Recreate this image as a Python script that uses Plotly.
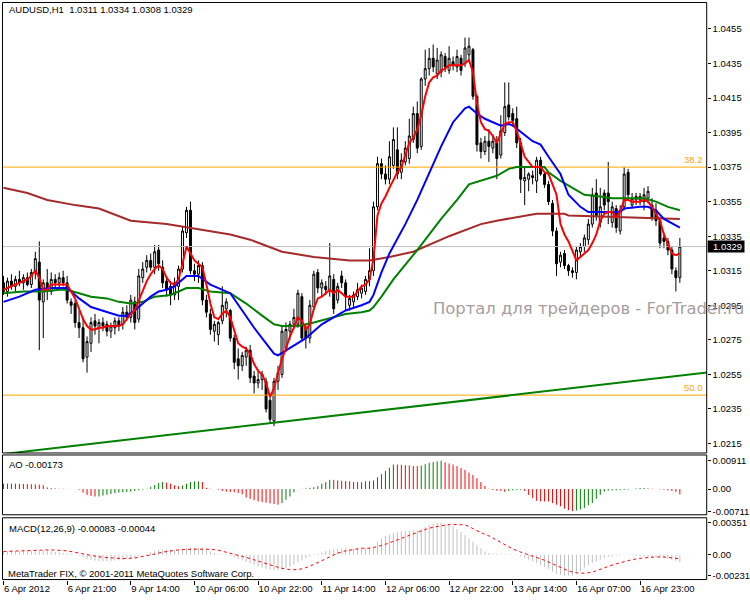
import plotly.graph_objects as go

# ---------------- AUDUSD H1 price bars ----------------
OPEN = [
    1.0308, 1.0303, 1.0309, 1.0306, 1.0310, 1.0308, 1.0311, 1.0307, 1.0314, 1.0320,
    1.0297, 1.0308, 1.0303, 1.0310, 1.0308, 1.0311, 1.0308, 1.0297, 1.0296, 1.0285,
    1.0282, 1.0265, 1.0273, 1.0286, 1.0282, 1.0285, 1.0284, 1.0280, 1.0282, 1.0286,
    1.0284, 1.0291, 1.0288, 1.0297, 1.0287, 1.0311, 1.0317, 1.0321, 1.0317, 1.0327,
    1.0317, 1.0309, 1.0306, 1.0301, 1.0306, 1.0316, 1.0337, 1.0350, 1.0315, 1.0313,
    1.0318, 1.0298, 1.0290, 1.0280, 1.0278, 1.0286, 1.0293, 1.0292, 1.0276, 1.0264,
    1.0260, 1.0265, 1.0269, 1.0254, 1.0250, 1.0252, 1.0251, 1.0240, 1.0228, 1.0251,
    1.0255, 1.0270, 1.0280, 1.0284, 1.0284, 1.0300, 1.0282, 1.0276, 1.0294, 1.0314,
    1.0305, 1.0306, 1.0304, 1.0310, 1.0298, 1.0312, 1.0308, 1.0295, 1.0297, 1.0300,
    1.0302, 1.0303, 1.0310, 1.0315, 1.0352, 1.0377, 1.0371, 1.0368, 1.0376, 1.0385,
    1.0372, 1.0378, 1.0380, 1.0391, 1.0406, 1.0387, 1.0426, 1.0432, 1.0438, 1.0429,
    1.0430, 1.0439, 1.0431, 1.0436, 1.0433, 1.0438, 1.0435, 1.0440, 1.0443, 1.0416,
    1.0389, 1.0384, 1.0390, 1.0386, 1.0389, 1.0382, 1.0395, 1.0411, 1.0406, 1.0403,
    1.0389, 1.0367, 1.0368, 1.0370, 1.0367, 1.0379, 1.0371, 1.0365, 1.0354, 1.0338,
    1.0320, 1.0325, 1.0318, 1.0315, 1.0314, 1.0326, 1.0329, 1.0333, 1.0342, 1.0360,
    1.0343, 1.0360, 1.0360, 1.0343, 1.0351, 1.0338, 1.0352, 1.0372, 1.0353, 1.0356,
    1.0356, 1.0355, 1.0357, 1.0353, 1.0350, 1.0344, 1.0334, 1.0332, 1.0327, 1.0315,
    1.0311,
]
HIGH = [
    1.0312, 1.0311, 1.0313, 1.0312, 1.0315, 1.0313, 1.0314, 1.0316, 1.0326, 1.0332,
    1.0310, 1.0316, 1.0314, 1.0313, 1.0314, 1.0315, 1.0312, 1.0299, 1.0298, 1.0292,
    1.0288, 1.0277, 1.0288, 1.0290, 1.0287, 1.0288, 1.0286, 1.0285, 1.0288, 1.0288,
    1.0294, 1.0295, 1.0301, 1.0300, 1.0316, 1.0320, 1.0324, 1.0325, 1.0330, 1.0330,
    1.0321, 1.0312, 1.0309, 1.0311, 1.0318, 1.0341, 1.0352, 1.0355, 1.0319, 1.0321,
    1.0320, 1.0301, 1.0293, 1.0286, 1.0286, 1.0306, 1.0299, 1.0293, 1.0278, 1.0270,
    1.0268, 1.0271, 1.0272, 1.0257, 1.0258, 1.0257, 1.0253, 1.0242, 1.0253, 1.0260,
    1.0283, 1.0285, 1.0286, 1.0293, 1.0304, 1.0302, 1.0284, 1.0298, 1.0315, 1.0316,
    1.0310, 1.0309, 1.0331, 1.0313, 1.0308, 1.0315, 1.0310, 1.0301, 1.0303, 1.0308,
    1.0307, 1.0312, 1.0328, 1.0355, 1.0381, 1.0380, 1.0376, 1.0390, 1.0398, 1.0398,
    1.0383, 1.0390, 1.0403, 1.0410, 1.0413, 1.0427, 1.0443, 1.0444, 1.0446, 1.0444,
    1.0442, 1.0441, 1.0445, 1.0439, 1.0443, 1.0440, 1.0450, 1.0450, 1.0444, 1.0417,
    1.0392, 1.0393, 1.0397, 1.0394, 1.0393, 1.0405, 1.0424, 1.0424, 1.0409, 1.0410,
    1.0392, 1.0375, 1.0372, 1.0373, 1.0381, 1.0381, 1.0372, 1.0367, 1.0356, 1.0340,
    1.0326, 1.0327, 1.0319, 1.0317, 1.0329, 1.0331, 1.0336, 1.0345, 1.0363, 1.0368,
    1.0363, 1.0362, 1.0378, 1.0355, 1.0353, 1.0353, 1.0375, 1.0374, 1.0360, 1.0360,
    1.0360, 1.0363, 1.0364, 1.0357, 1.0354, 1.0346, 1.0337, 1.0334, 1.0329, 1.0317,
    1.0334,
]
LOW = [
    1.0301, 1.0300, 1.0304, 1.0303, 1.0306, 1.0304, 1.0306, 1.0305, 1.0310, 1.0269,
    1.0276, 1.0298, 1.0301, 1.0305, 1.0304, 1.0306, 1.0296, 1.0290, 1.0282, 1.0276,
    1.0262, 1.0256, 1.0268, 1.0278, 1.0273, 1.0280, 1.0277, 1.0276, 1.0278, 1.0280,
    1.0281, 1.0286, 1.0285, 1.0281, 1.0285, 1.0308, 1.0314, 1.0315, 1.0313, 1.0315,
    1.0305, 1.0300, 1.0295, 1.0298, 1.0298, 1.0314, 1.0334, 1.0313, 1.0309, 1.0308,
    1.0295, 1.0288, 1.0278, 1.0274, 1.0272, 1.0284, 1.0288, 1.0274, 1.0258, 1.0252,
    1.0257, 1.0260, 1.0250, 1.0244, 1.0247, 1.0246, 1.0233, 1.0227, 1.0225, 1.0246,
    1.0253, 1.0268, 1.0275, 1.0282, 1.0282, 1.0274, 1.0270, 1.0273, 1.0292, 1.0302,
    1.0300, 1.0301, 1.0300, 1.0290, 1.0296, 1.0305, 1.0292, 1.0292, 1.0294, 1.0298,
    1.0299, 1.0301, 1.0306, 1.0312, 1.0350, 1.0368, 1.0365, 1.0365, 1.0374, 1.0368,
    1.0368, 1.0376, 1.0377, 1.0389, 1.0383, 1.0385, 1.0422, 1.0428, 1.0430, 1.0426,
    1.0427, 1.0430, 1.0429, 1.0431, 1.0430, 1.0428, 1.0433, 1.0436, 1.0414, 1.0384,
    1.0380, 1.0382, 1.0378, 1.0383, 1.0368, 1.0380, 1.0393, 1.0402, 1.0399, 1.0386,
    1.0360, 1.0353, 1.0361, 1.0365, 1.0360, 1.0370, 1.0363, 1.0353, 1.0335, 1.0312,
    1.0317, 1.0316, 1.0312, 1.0311, 1.0310, 1.0323, 1.0326, 1.0330, 1.0340, 1.0344,
    1.0340, 1.0350, 1.0342, 1.0340, 1.0337, 1.0336, 1.0350, 1.0356, 1.0351, 1.0353,
    1.0353, 1.0350, 1.0354, 1.0344, 1.0341, 1.0328, 1.0328, 1.0324, 1.0313, 1.0303,
    1.0308,
]
CLOSE = [
    1.0303, 1.0309, 1.0306, 1.0310, 1.0308, 1.0311, 1.0307, 1.0314, 1.0322, 1.0298,
    1.0308, 1.0303, 1.0310, 1.0308, 1.0311, 1.0308, 1.0298, 1.0295, 1.0285, 1.0282,
    1.0264, 1.0274, 1.0285, 1.0283, 1.0285, 1.0283, 1.0280, 1.0283, 1.0286, 1.0283,
    1.0291, 1.0288, 1.0298, 1.0285, 1.0312, 1.0316, 1.0321, 1.0317, 1.0326, 1.0319,
    1.0308, 1.0304, 1.0301, 1.0308, 1.0316, 1.0338, 1.0350, 1.0315, 1.0313, 1.0318,
    1.0298, 1.0291, 1.0281, 1.0284, 1.0285, 1.0295, 1.0297, 1.0276, 1.0262, 1.0260,
    1.0266, 1.0269, 1.0253, 1.0250, 1.0252, 1.0255, 1.0235, 1.0229, 1.0251, 1.0256,
    1.0280, 1.0281, 1.0284, 1.0288, 1.0302, 1.0276, 1.0276, 1.0295, 1.0313, 1.0305,
    1.0308, 1.0304, 1.0312, 1.0293, 1.0306, 1.0308, 1.0300, 1.0299, 1.0301, 1.0304,
    1.0305, 1.0310, 1.0315, 1.0352, 1.0377, 1.0371, 1.0368, 1.0381, 1.0391, 1.0371,
    1.0379, 1.0386, 1.0393, 1.0406, 1.0386, 1.0426, 1.0432, 1.0438, 1.0433, 1.0437,
    1.0440, 1.0433, 1.0438, 1.0434, 1.0439, 1.0431, 1.0444, 1.0445, 1.0416, 1.0388,
    1.0384, 1.0390, 1.0387, 1.0390, 1.0380, 1.0396, 1.0410, 1.0404, 1.0402, 1.0389,
    1.0368, 1.0369, 1.0371, 1.0369, 1.0379, 1.0371, 1.0365, 1.0355, 1.0338, 1.0319,
    1.0324, 1.0318, 1.0315, 1.0314, 1.0327, 1.0329, 1.0334, 1.0342, 1.0359, 1.0347,
    1.0352, 1.0353, 1.0355, 1.0352, 1.0340, 1.0350, 1.0371, 1.0359, 1.0357, 1.0358,
    1.0358, 1.0359, 1.0361, 1.0346, 1.0344, 1.0331, 1.0332, 1.0327, 1.0316, 1.0311,
    1.0329,
]

TIME_TICKS = [0, 16, 32, 48, 64, 80, 96, 112, 128, 144, 160]
TIME_LABELS = ["6 Apr 2012", "6 Apr 21:00", "9 Apr 14:00", "10 Apr 06:00",
               "10 Apr 22:00", "11 Apr 14:00", "12 Apr 06:00", "12 Apr 22:00",
               "13 Apr 14:00", "16 Apr 07:00", "16 Apr 23:00"]

# ---------------- moving averages ----------------
MA_FAST = [
    1.0304, 1.0305, 1.0306, 1.0307, 1.0308, 1.0309, 1.0310, 1.0312, 1.0315, 1.0311,
    1.0304, 1.0304, 1.0307, 1.0307, 1.0307, 1.0307, 1.0307, 1.0303, 1.0299, 1.0293,
    1.0287, 1.0283, 1.0281, 1.0281, 1.0282, 1.0282, 1.0283, 1.0283, 1.0283, 1.0283,
    1.0284, 1.0287, 1.0290, 1.0292, 1.0298, 1.0304, 1.0309, 1.0313, 1.0316, 1.0318,
    1.0316, 1.0311, 1.0308, 1.0307, 1.0310, 1.0319, 1.0329, 1.0325, 1.0321, 1.0319,
    1.0317, 1.0307, 1.0296, 1.0288, 1.0287, 1.0290, 1.0292, 1.0288, 1.0281, 1.0273,
    1.0271, 1.0270, 1.0267, 1.0261, 1.0257, 1.0255, 1.0250, 1.0242, 1.0247, 1.0255,
    1.0264, 1.0270, 1.0277, 1.0282, 1.0288, 1.0286, 1.0281, 1.0284, 1.0293, 1.0299,
    1.0300, 1.0302, 1.0304, 1.0302, 1.0304, 1.0302, 1.0300, 1.0300, 1.0300, 1.0303,
    1.0306, 1.0307, 1.0310, 1.0322, 1.0347, 1.0354, 1.0358, 1.0363, 1.0368, 1.0372,
    1.0375, 1.0382, 1.0389, 1.0392, 1.0397, 1.0405, 1.0416, 1.0424, 1.0427, 1.0428,
    1.0431, 1.0432, 1.0434, 1.0434, 1.0434, 1.0434, 1.0435, 1.0437, 1.0430, 1.0412,
    1.0401, 1.0397, 1.0396, 1.0393, 1.0389, 1.0395, 1.0400, 1.0401, 1.0401, 1.0396,
    1.0388, 1.0381, 1.0378, 1.0375, 1.0375, 1.0375, 1.0372, 1.0371, 1.0365, 1.0359,
    1.0342, 1.0336, 1.0332, 1.0326, 1.0321, 1.0323, 1.0325, 1.0327, 1.0331, 1.0336,
    1.0344, 1.0348, 1.0349, 1.0349, 1.0346, 1.0349, 1.0356, 1.0356, 1.0355, 1.0355,
    1.0355, 1.0356, 1.0355, 1.0352, 1.0348, 1.0344, 1.0336, 1.0330, 1.0325, 1.0324,
    1.0325,
]
MA_MID_BARS = [0, 4, 8, 12, 16, 19, 22, 26, 29, 31, 33, 35, 37, 39, 41, 43, 44, 46, 49,
               52, 57, 60, 63, 66, 68, 69, 71, 74, 76, 78, 80, 83, 86, 90, 92, 93, 95,
               97, 101, 104, 107, 109, 110, 113, 116, 117, 119, 121, 123, 125, 127,
               128, 133, 135, 137, 140, 142, 145, 147, 150, 155, 156, 160, 162, 164,
               166, 170]
MA_MID = [1.0297, 1.0300, 1.0304, 1.0305, 1.0305, 1.0299, 1.0294, 1.0291, 1.0289,
          1.0289, 1.0292, 1.0296, 1.0300, 1.0303, 1.0304, 1.0306, 1.0308, 1.0312,
          1.0312, 1.0307, 1.0302, 1.0292, 1.0282, 1.0273, 1.0267, 1.0266, 1.0269,
          1.0273, 1.0276, 1.0280, 1.0284, 1.0288, 1.0292, 1.0295, 1.0297, 1.0301,
          1.0314, 1.0325, 1.0342, 1.0356, 1.0372, 1.0382, 1.0387, 1.0401, 1.0409,
          1.0410, 1.0406, 1.0403, 1.0401, 1.0399, 1.0400, 1.0399, 1.0390, 1.0388,
          1.0381, 1.0371, 1.0359, 1.0352, 1.0349, 1.0349, 1.0349, 1.0351, 1.0352,
          1.0352, 1.0350, 1.0345, 1.0340]
MA_SLOW_BARS = [0, 5, 10, 14, 16, 19, 22, 26, 29, 32, 35, 38, 42, 44, 46, 49, 52, 57,
                61, 65, 68, 70, 74, 78, 83, 86, 90, 92, 93, 95, 98, 104, 110, 114, 117,
                120, 124, 127, 129, 136, 137, 140, 143, 146, 150, 153, 156, 161, 164,
                167, 170]
MA_SLOW = [1.0302, 1.0303, 1.0303, 1.0304, 1.0304, 1.0302, 1.0300, 1.0299, 1.0297,
           1.0296, 1.0297, 1.0300, 1.0301, 1.0303, 1.0305, 1.0305, 1.0303, 1.0302,
           1.0296, 1.0289, 1.0284, 1.0283, 1.0283, 1.0285, 1.0288, 1.0290, 1.0291,
           1.0292, 1.0294, 1.0300, 1.0310, 1.0327, 1.0345, 1.0356, 1.0365, 1.0367,
           1.0370, 1.0374, 1.0375, 1.0375, 1.0372, 1.0367, 1.0363, 1.0359, 1.0358,
           1.0357, 1.0357, 1.0357, 1.0355, 1.0352, 1.0350]
MA_200_BARS = [0, 6, 11, 18, 24, 32, 41, 49, 57, 62, 70, 78, 87, 92, 97, 103, 112, 120,
               124, 134, 141, 142, 157, 170]
MA_200 = [1.0363, 1.0360, 1.0356, 1.0353, 1.0351, 1.0344, 1.0342, 1.0339, 1.0336,
          1.0333, 1.0326, 1.0323, 1.0321, 1.0321, 1.0323, 1.0326, 1.0335, 1.0342,
          1.0344, 1.0348, 1.0348, 1.0347, 1.0346, 1.0345]

# ---------------- chart objects ----------------
TREND_BARS = [0, 177]
TREND_PRICES = [1.02089, 1.02561]
FIBO_LEVELS = [1.0375, 1.0243]
FIBO_NAMES = ["38.2", "50.0"]

# ---------------- Awesome Oscillator ----------------
AO = [
    0.00172, 0.00176, 0.00173, 0.00175, 0.00169, 0.00165, 0.00159, 0.00155, 0.00149, 0.00145,
    0.00123, 0.00052, 0.00031, 0.00021, 0.00010, 0.00011, 0.00007, 0.00005, 0.00001, -0.00021,
    -0.00115, -0.00188, -0.00220, -0.00241, -0.00238, -0.00210, -0.00188, -0.00157, -0.00136, -0.00115,
    -0.00104, -0.00094, -0.00084, -0.00063, -0.00042, -0.00021, 0.00010, 0.00071, 0.00123, 0.00194,
    0.00225, 0.00205, 0.00174, 0.00123, 0.00092, 0.00113, 0.00174, 0.00225, 0.00246, 0.00249,
    0.00225, 0.00041, 0.00010, 0.00002, -0.00021, -0.00063, -0.00084, -0.00094, -0.00104, -0.00126,
    -0.00167, -0.00271, -0.00314, -0.00355, -0.00397, -0.00418, -0.00439, -0.00460, -0.00481, -0.00502,
    -0.00450, -0.00345, -0.00240, -0.00104, -0.00005, 0.00010, 0.00021, 0.00041, 0.00061, 0.00092,
    0.00174, 0.00225, 0.00297, 0.00295, 0.00277, 0.00266, 0.00256, 0.00246, 0.00226, 0.00224,
    0.00221, 0.00246, 0.00256, 0.00277, 0.00379, 0.00481, 0.00584, 0.00686, 0.00788, 0.00786,
    0.00778, 0.00767, 0.00758, 0.00738, 0.00737, 0.00758, 0.00798, 0.00840, 0.00871, 0.00890,
    0.00911, 0.00860, 0.00819, 0.00788, 0.00737, 0.00676, 0.00615, 0.00532, 0.00451, 0.00348,
    0.00225, 0.00102, 0.00010, -0.00031, -0.00053, -0.00063, -0.00094, -0.00063, -0.00042, -0.00031,
    -0.00028, -0.00063, -0.00188, -0.00293, -0.00377, -0.00397, -0.00400, -0.00402, -0.00450, -0.00502,
    -0.00554, -0.00628, -0.00679, -0.00711, -0.00690, -0.00659, -0.00606, -0.00522, -0.00450, -0.00314,
    -0.00188, -0.00084, -0.00053, -0.00042, -0.00040, -0.00031, -0.00030, -0.00021, 0.00001, 0.00021,
    0.00031, 0.00033, 0.00021, 0.00010, -0.00002, -0.00010, -0.00021, -0.00042, -0.00063, -0.00094,
    -0.00173,
]

# ---------------- MACD(12,26,9) ----------------
MACD_MAIN = [
    0.00036, 0.00040, 0.00040, 0.00041, 0.00042, 0.00042, 0.00043, 0.00043, 0.00043, 0.00042,
    0.00041, 0.00040, 0.00039, 0.00032, 0.00027, 0.00021, 0.00014, 0.00007, 0.00000, -0.00011,
    -0.00029, -0.00046, -0.00057, -0.00065, -0.00071, -0.00071, -0.00071, -0.00068, -0.00065, -0.00061,
    -0.00057, -0.00050, -0.00043, -0.00036, -0.00018, 0.00000, 0.00014, 0.00029, 0.00043, 0.00054,
    0.00057, 0.00057, 0.00054, 0.00050, 0.00054, 0.00065, 0.00075, 0.00079, 0.00079, 0.00075,
    0.00071, 0.00057, 0.00036, 0.00018, 0.00007, 0.00004, -0.00004, -0.00014, -0.00029, -0.00046,
    -0.00061, -0.00079, -0.00096, -0.00115, -0.00129, -0.00140, -0.00154, -0.00165, -0.00172, -0.00172,
    -0.00165, -0.00150, -0.00132, -0.00107, -0.00082, -0.00061, -0.00040, -0.00021, -0.00007, 0.00011,
    0.00025, 0.00040, 0.00054, 0.00061, 0.00065, 0.00068, 0.00068, 0.00065, 0.00065, 0.00065,
    0.00068, 0.00075, 0.00082, 0.00090, 0.00143, 0.00179, 0.00208, 0.00222, 0.00243, 0.00251,
    0.00258, 0.00261, 0.00265, 0.00269, 0.00269, 0.00286, 0.00304, 0.00329, 0.00344, 0.00351,
    0.00350, 0.00340, 0.00329, 0.00315, 0.00286, 0.00251, 0.00215, 0.00179, 0.00143, 0.00107,
    0.00072, 0.00036, 0.00021, 0.00014, 0.00011, 0.00007, 0.00007, 0.00004, 0.00001, -0.00007,
    -0.00018, -0.00036, -0.00054, -0.00072, -0.00090, -0.00115, -0.00136, -0.00158, -0.00186, -0.00208,
    -0.00222, -0.00229, -0.00231, -0.00229, -0.00208, -0.00179, -0.00143, -0.00115, -0.00090, -0.00072,
    -0.00054, -0.00036, -0.00025, -0.00018, -0.00011, -0.00007, -0.00004, -0.00001, -0.00007, -0.00011,
    -0.00014, -0.00018, -0.00021, -0.00025, -0.00029, -0.00032, -0.00036, -0.00047, -0.00057, -0.00068,
    -0.00083,
]
SIGNAL_BARS = [0, 4, 8, 12, 16, 18, 20, 22, 25, 28, 30, 33, 36, 38, 40, 42, 44, 47, 50,
               52, 54, 56, 58, 60, 62, 64, 66, 68, 70, 72, 74, 76, 78, 80, 82, 84, 86,
               88, 90, 92, 93, 96, 100, 102, 104, 106, 108, 110, 112, 114, 116, 117,
               118, 120, 122, 124, 126, 128, 130, 132, 134, 136, 138, 140, 142, 144,
               146, 148, 150, 152, 154, 156, 158, 160, 162, 164, 166, 168, 170]
SIGNAL = [0.00036, 0.00043, 0.00054, 0.00054, 0.00043, 0.00029, 0.00007, -0.00007,
          -0.00029, -0.00039, -0.00043, -0.00036, -0.00014, 0.00007, 0.00029, 0.00043,
          0.00054, 0.00061, 0.00064, 0.00061, 0.00050, 0.00029, 0.00007, -0.00018,
          -0.00043, -0.00072, -0.00100, -0.00125, -0.00150, -0.00165, -0.00165,
          -0.00143, -0.00107, -0.00064, -0.00018, 0.00018, 0.00043, 0.00061, 0.00072,
          0.00072, 0.00079, 0.00115, 0.00179, 0.00215, 0.00251, 0.00279, 0.00304,
          0.00322, 0.00333, 0.00333, 0.00329, 0.00311, 0.00286, 0.00243, 0.00208,
          0.00161, 0.00107, 0.00064, 0.00029, 0.00000, -0.00029, -0.00061, -0.00100,
          -0.00143, -0.00179, -0.00200, -0.00204, -0.00193, -0.00165, -0.00129,
          -0.00100, -0.00075, -0.00054, -0.00039, -0.00029, -0.00025, -0.00025,
          -0.00032, -0.00044]

N = len(CLOSE)
BARS = list(range(N))

# ---------------- page geometry (pixels) ----------------
W, H = 750, 600
LEFT, RIGHT = 2.5, 710.5
MAIN_Y = (2.5, 454.5)
AO_Y = (456.5, 516.5)
MACD_Y = (519.5, 581.5)
X_RANGE = [-0.25, 176.75]


def fx(px):
    return px / W


def fy(py):
    return 1 - py / H


def stems(idx, vals):
    """Vertical 1px sticks from zero to each value (histogram style)."""
    xs, ys = [], []
    for i in idx:
        xs += [i, i, None]
        ys += [0, vals[i], None]
    return xs, ys


FONT = "Liberation Sans"
TXT = dict(family=FONT, size=9.5, color="black")
UP, DOWN = "#008000", "#FF0000"

fig = go.Figure()

# price panel ----------------------------------------------------------------
for lvl in FIBO_LEVELS:
    fig.add_trace(go.Scatter(x=X_RANGE, y=[lvl, lvl], mode="lines",
                             line=dict(color="#FFA500", width=1),
                             hoverinfo="skip", showlegend=False))
fig.add_trace(go.Scatter(x=X_RANGE, y=[CLOSE[-1], CLOSE[-1]], mode="lines",
                         line=dict(color="#C0C0C0", width=1),
                         hoverinfo="skip", showlegend=False))

fig.add_trace(go.Candlestick(
    x=BARS, open=OPEN, high=HIGH, low=LOW, close=CLOSE,
    increasing=dict(line=dict(color="black", width=1), fillcolor="white"),
    decreasing=dict(line=dict(color="black", width=1), fillcolor="black"),
    whiskerwidth=0, hoverinfo="skip", showlegend=False))

fig.add_trace(go.Scatter(x=MA_200_BARS, y=MA_200, mode="lines",
                         line=dict(color="#A52A2A", width=2),
                         hoverinfo="skip", showlegend=False))
fig.add_trace(go.Scatter(x=MA_SLOW_BARS, y=MA_SLOW, mode="lines",
                         line=dict(color="#008000", width=2),
                         hoverinfo="skip", showlegend=False))
fig.add_trace(go.Scatter(x=MA_MID_BARS, y=MA_MID, mode="lines",
                         line=dict(color="#0000FF", width=2),
                         hoverinfo="skip", showlegend=False))
fig.add_trace(go.Scatter(x=BARS, y=MA_FAST, mode="lines",
                         line=dict(color="#FF0000", width=2),
                         hoverinfo="skip", showlegend=False))
fig.add_trace(go.Scatter(x=TREND_BARS, y=TREND_PRICES, mode="lines",
                         line=dict(color="#008000", width=2),
                         hoverinfo="skip", showlegend=False))

# AO panel: green when rising, red when falling -------------------------------
rising = [i for i in BARS if i == 0 or AO[i] > AO[i - 1]]
falling = [i for i in BARS if not (i == 0 or AO[i] > AO[i - 1])]
for idx, col in ((rising, UP), (falling, DOWN)):
    sx, sy = stems(idx, AO)
    fig.add_trace(go.Scatter(x=sx, y=sy, mode="lines", line=dict(color=col, width=1),
                             xaxis="x2", yaxis="y2", hoverinfo="skip",
                             showlegend=False))

# MACD panel ------------------------------------------------------------------
sx, sy = stems(BARS, MACD_MAIN)
fig.add_trace(go.Scatter(x=sx, y=sy, mode="lines", line=dict(color="#C0C0C0", width=1),
                         xaxis="x3", yaxis="y3", hoverinfo="skip", showlegend=False))
fig.add_trace(go.Scatter(x=SIGNAL_BARS, y=SIGNAL, mode="lines",
                         line=dict(color="#FF0000", width=1, dash="3px,3px"),
                         xaxis="x3", yaxis="y3", hoverinfo="skip", showlegend=False))

# axes --------------------------------------------------------------------------
xbase = dict(domain=[fx(LEFT), fx(RIGHT)], range=X_RANGE, showgrid=False,
             zeroline=False, showline=False, fixedrange=True)
ybase = dict(side="right", showgrid=False, zeroline=False, showline=False,
             ticks="outside", ticklen=3, tickwidth=1, tickcolor="black",
             tickfont=TXT, fixedrange=True)

layout_axes = dict(
    xaxis=dict(xbase, anchor="y", showticklabels=False, ticks="",
               rangeslider=dict(visible=False)),
    xaxis2=dict(xbase, anchor="y2", matches="x", showticklabels=False, ticks=""),
    xaxis3=dict(xbase, anchor="y3", matches="x", ticks="outside", ticklen=4,
                tickwidth=1, tickcolor="black", tickvals=TIME_TICKS,
                ticktext=TIME_LABELS, ticklabelposition="outside right",
                tickfont=TXT),
    yaxis=dict(ybase, anchor="x", domain=[fy(MAIN_Y[1]), fy(MAIN_Y[0])],
               range=[1.02095, 1.04703], tick0=1.0215, dtick=0.002,
               tickformat=".4f"),
    yaxis2=dict(ybase, anchor="x2", domain=[fy(AO_Y[1]), fy(AO_Y[0])],
                range=[-0.00826, 0.01094], tickvals=[max(AO), 0, min(AO)],
                ticktext=[f"{max(AO):.5f}", "0.00", f"{min(AO):.5f}"]),
    yaxis3=dict(ybase, anchor="x3", domain=[fy(MACD_Y[1]), fy(MACD_Y[0])],
                range=[-0.00274, 0.00408],
                tickvals=[max(MACD_MAIN), 0, min(MACD_MAIN)],
                ticktext=[f"{max(MACD_MAIN):.5f}", "0.00", f"{min(MACD_MAIN):.5f}"]),
)

# panel frames
shapes = []
for top, bot in (MAIN_Y, AO_Y, MACD_Y):
    shapes.append(dict(type="rect", xref="paper", yref="paper",
                       x0=fx(LEFT), x1=fx(RIGHT), y0=fy(bot), y1=fy(top),
                       line=dict(color="black", width=1), fillcolor="rgba(0,0,0,0)"))
# bid price box on the scale
shapes.append(dict(type="rect", xref="paper", yref="y", ysizemode="pixel",
                   yanchor=CLOSE[-1], y0=-6, y1=6, x0=fx(711.5), x1=fx(748.5),
                   line=dict(width=0), fillcolor="black"))

annotations = [
    dict(text=f"AUDUSD,H1\u00a0 {OPEN[-1]:.4f} {HIGH[-1]:.4f} {LOW[-1]:.4f} {CLOSE[-1]:.4f}",
         x=fx(7), y=fy(10), xref="paper", yref="paper", xanchor="left",
         yanchor="middle", showarrow=False, font=TXT),
    dict(text=f"AO {AO[-1]:.5f}", x=fx(7), y=fy(466), xref="paper", yref="paper",
         xanchor="left", yanchor="middle", showarrow=False, font=TXT),
    dict(text=f"MACD(12,26,9) {MACD_MAIN[-1]:.5f} {SIGNAL[-1]:.5f}", x=fx(7),
         y=fy(530), xref="paper", yref="paper", xanchor="left", yanchor="middle",
         showarrow=False, font=TXT),
    dict(text="MetaTrader FIX, © 2001-2011 MetaQuotes Software Corp.", x=fx(6),
         y=fy(575), xref="paper", yref="paper", xanchor="left", yanchor="middle",
         showarrow=False, font=TXT),
    dict(text="Портал для трейдеров - ForTrader.ru", x=fx(433), y=fy(310),
         xref="paper", yref="paper", xanchor="left", yanchor="middle",
         showarrow=False, font=dict(family="DejaVu Sans", size=16.4, color="#A69E9E")),
    dict(text=f"{CLOSE[-1]:.4f}", x=fx(715), y=CLOSE[-1], xref="paper", yref="y",
         xanchor="left", yanchor="middle", showarrow=False,
         font=dict(family=FONT, size=9.5, color="white")),
]
for lvl, name in zip(FIBO_LEVELS, FIBO_NAMES):
    annotations.append(dict(text=name, x=fx(708.5), y=lvl, xref="paper", yref="y",
                            xanchor="right", yanchor="bottom", showarrow=False,
                            font=dict(family=FONT, size=9.5, color="#FFA500")))

fig.update_layout(
    width=W, height=H, margin=dict(l=0, r=0, t=0, b=0),
    paper_bgcolor="white", plot_bgcolor="white", showlegend=False,
    shapes=shapes, annotations=annotations, **layout_axes)

fig.write_html("out.html")
